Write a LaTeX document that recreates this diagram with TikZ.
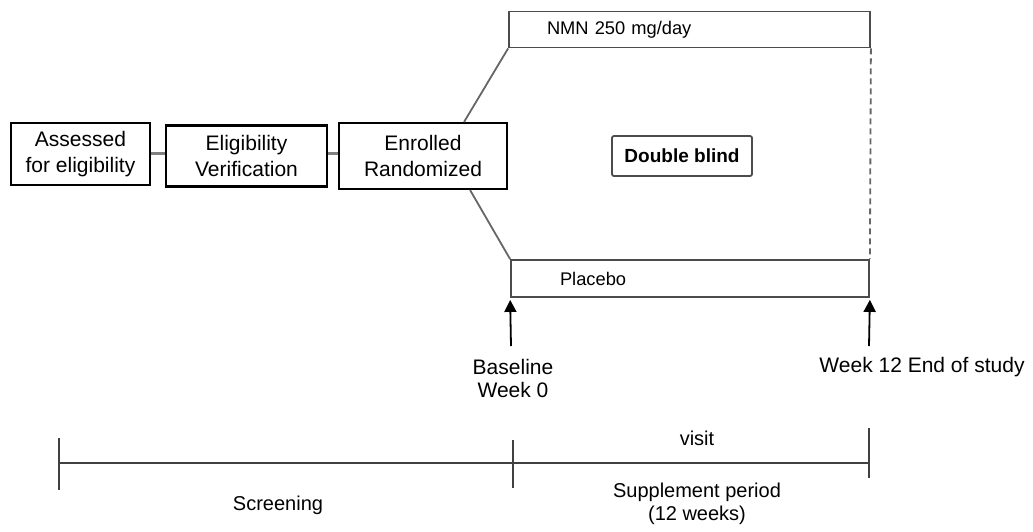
\documentclass[tikz,border=0pt]{standalone}
\usepackage{fontspec}
\setmainfont{Liberation Sans}
\usetikzlibrary{arrows.meta}

\begin{document}
\begin{tikzpicture}[x=1pt,y=-1pt,
    stepbox/.style={draw=black,line width=2.2pt,align=center,inner sep=0pt,
      font=\fontsize{21}{26.5}\selectfont},
    armbox/.style={draw=black!70,line width=1.8pt,align=left,inner ysep=0pt,
      font=\fontsize{18.3}{20}\selectfont},
    link/.style={gray,line width=3pt},
    arm/.style={black!60,line width=1.8pt},
    uparrow/.style={black,line width=1.8pt,-{Triangle[width=12pt,length=12pt]},shorten >=2pt},
    axis/.style={black!75,line width=1.6pt},
    lbl/.style={align=center,font=\fontsize{20}{23.5}\selectfont}]
  \useasboundingbox (0,0) rectangle (1033,531);
  % screening steps
  \node[stepbox,minimum width=139pt,minimum height=62pt] (assess) at (80.5,154) {Assessed\\for eligibility};
  \node[stepbox,minimum width=161pt,minimum height=61pt] (verify) at (246.5,156) {Eligibility\\Verification};
  \node[stepbox,minimum width=168pt,minimum height=66pt] (enroll) at (423,156) {Enrolled\\Randomized};
  \draw[link] (assess.east |- 0,153) -- (verify.west |- 0,153);
  \draw[link] (verify.east |- 0,153) -- (enroll.west |- 0,153);
  % study arms
  \node[armbox,text width=285pt,inner xsep=38pt,minimum height=36pt] (nmn) at (689.5,29.5) {NMN 250 mg/day};
  \node[armbox,text width=260pt,inner xsep=49pt,minimum height=37pt] (plac) at (690,278.5) {Placebo};
  \node[draw=black!70,line width=1.8pt,rounded corners=2pt,minimum width=140pt,minimum height=40pt,
    font=\fontsize{19}{22}\selectfont\bfseries] (blind) at (682,156) {Double blind};
  \draw[arm] (enroll.north east) ++(-44,0) -- (nmn.south west);
  \draw[arm] (enroll.south east) ++(-38,0) -- (plac.north west);
  \draw[arm,dashed,dash pattern=on 6pt off 4pt] (nmn.south east) -- (plac.north east);
  % visits
  \coordinate (basetail) at (511,346);
  \coordinate (endtail) at (869,346);
  \draw[uparrow] (basetail) -- (plac.south west);
  \draw[uparrow] (endtail) -- (plac.south east);
  \node[lbl,font=\fontsize{21}{23.5}\selectfont] (basetxt) at (513,378.5) {Baseline\\Week 0};
  \node[lbl,font=\fontsize{21}{23.5}\selectfont] (endtxt) at (922,367) {Week 12 End of study};
  % timeline
  \draw[axis] (59,463) -- (869,463);
  \draw[axis] (59,438) -- (59,490);
  \draw[axis] (513,440) -- (513,488);
  \draw[axis] (869,428) -- (869,478);
  \node[lbl] (visit) at (697,438) {visit};
  \node[lbl] (screen) at (278,505) {Screening};
  \node[lbl] (supp) at (697,504) {Supplement period\\(12 weeks)};
\end{tikzpicture}
\end{document}
